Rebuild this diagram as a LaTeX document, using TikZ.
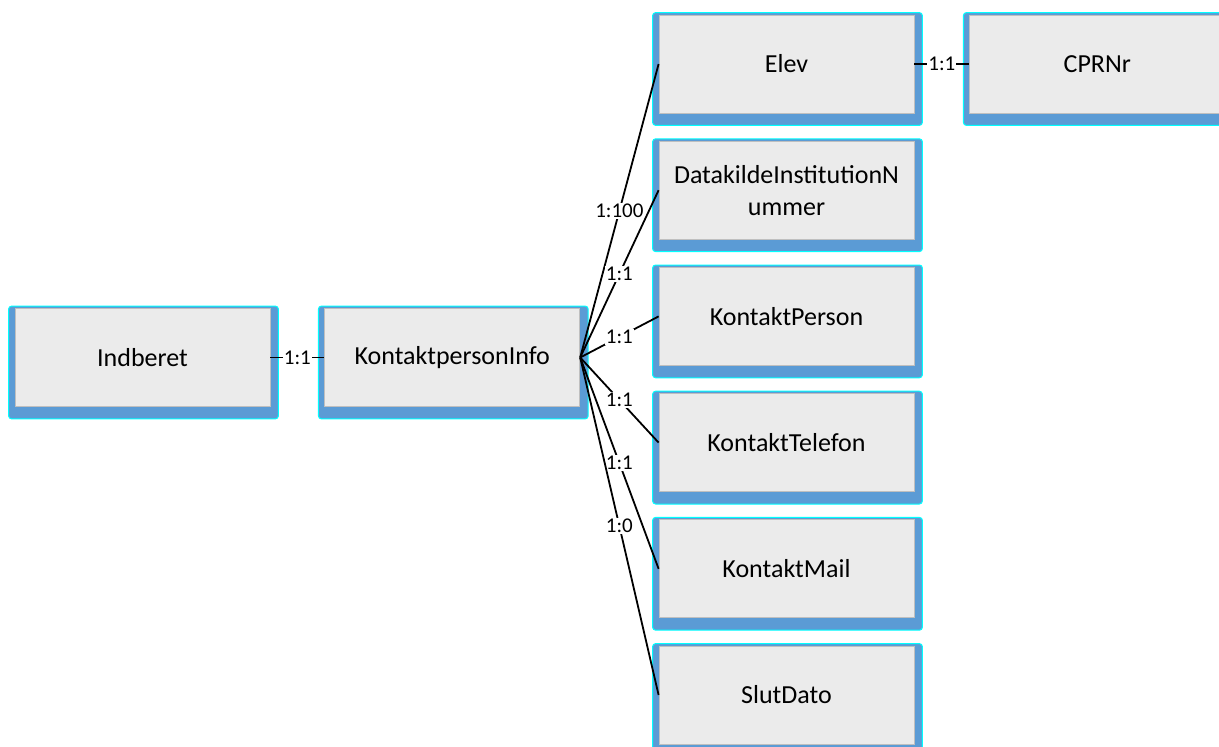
\documentclass[tikz,border=0pt]{standalone}
\usepackage{fontspec}
\setmainfont{Carlito}
\usetikzlibrary{positioning,backgrounds}
\definecolor{facegray}{HTML}{EBEBEB}
\definecolor{edgegray}{HTML}{BFBFBF}
\definecolor{frameblue}{HTML}{5B9BD5}
\definecolor{framecyan}{HTML}{00FFFF}

\begin{document}
\begin{tikzpicture}[x=1pt, y=-1pt,
  entity/.style={draw=edgegray, fill=facegray, line width=0.8pt, minimum width=255pt, minimum height=98pt,
    inner sep=0pt, align=center, font=\fontsize{26}{32}\selectfont},
  card/.style={fill=white, inner sep=1pt, font=\fontsize{21}{25}\selectfont},
  link/.style={line width=1.8pt}]
\useasboundingbox (0,0) rectangle (1219,747);
% Entities
\node[entity] (indberet) at (142.5,357.5) {Indberet};
\node[entity, right=54pt of indberet] (kpinfo) {KontaktpersonInfo};
\node[entity] (elev) at (786.5,64) {Elev};
\node[entity, right=55pt of elev] (cprnr) {CPRNr};
\node[entity, below=27.4pt of elev] (datakilde) {DatakildeInstitutionN\\ummer};
\node[entity, below=27.4pt of datakilde] (kperson) {KontaktPerson};
\node[entity, below=27.4pt of kperson] (ktelefon) {KontaktTelefon};
\node[entity, below=27.4pt of ktelefon] (kmail) {KontaktMail};
\node[entity, below=27.4pt of kmail] (slutdato) {SlutDato};
% Blue frames behind the faces
\begin{scope}[on background layer]
\foreach \n in {indberet,kpinfo,elev,cprnr,datakilde,kperson,ktelefon,kmail,slutdato}
  \draw[framecyan, fill=frameblue, line width=1pt, rounded corners=3pt]
    ([xshift=-6pt,yshift=2pt]\n.north west) rectangle ([xshift=8pt,yshift=-12pt]\n.south east);
\end{scope}
% Relations
\draw[link] (indberet) -- node[card]{1:1} (kpinfo);
\draw[link] (elev) -- node[card]{1:1} (cprnr);
\foreach \t/\c in {elev/1:100, datakilde/1:1, kperson/1:1, ktelefon/1:1, kmail/1:1, slutdato/1:0}
  \draw[link] (kpinfo.east) -- node[card]{\c} (\t.west);
\end{tikzpicture}
\end{document}
